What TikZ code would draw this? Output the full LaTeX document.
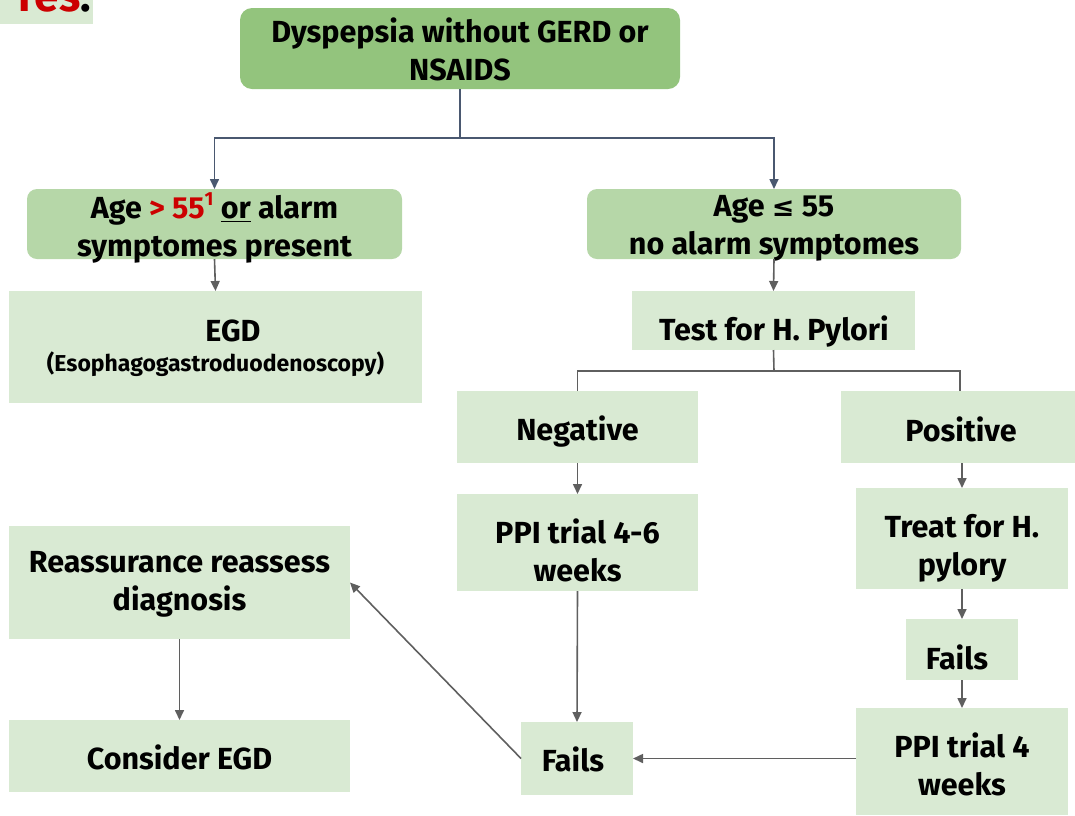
\documentclass[tikz,border=0pt]{standalone}
\usepackage{fontspec}
\setmainfont{Fira Sans}
\newfontfamily\symfont{DejaVu Sans}
\usetikzlibrary{arrows.meta}
\definecolor{topgreen}{HTML}{93C47D}
\definecolor{midgreen}{HTML}{B6D7A8}
\definecolor{lightgreen}{HTML}{D9EAD3}
\definecolor{slateline}{HTML}{4A5870}
\definecolor{grayline}{HTML}{5F5F5F}
\definecolor{redtxt}{HTML}{CC0000}
\tikzset{
  every node/.style={inner sep=0pt, outer sep=0pt},
  boxtext/.style={align=center, font=\bfseries\fontsize{30.5}{38}\selectfont},
  subtext/.style={align=center, font=\bfseries\fontsize{23}{26}\selectfont},
  topbox/.style={fill=topgreen, rounded corners=12pt},
  agebox/.style={fill=midgreen, rounded corners=10pt},
  stepbox/.style={fill=lightgreen},
  slateconn/.style={draw=slateline, line width=1.6pt},
  slatearrow/.style={slateconn, -{Triangle[length=10pt,width=9pt]}},
  grayconn/.style={draw=grayline, line width=1.6pt},
  grayarrow/.style={grayconn, -{Triangle[length=10pt,width=9pt]}},
}
\begin{document}
\begin{tikzpicture}[x=1pt,y=-1pt]
\useasboundingbox (0,0) rectangle (1075,815);
% partial title
\node[fill=lightgreen, anchor=north west, minimum width=93pt, minimum height=24pt] (titlebg) at (0,0) {};
\node[anchor=base east, font=\bfseries\fontsize{44}{50}\selectfont] (titletxt) at (91,11) {\textcolor{redtxt}{res}.};
% boxes
\node[topbox, minimum width=440pt, minimum height=81pt] (top) at (460,48.5) {};
\node[agebox, minimum width=375pt, minimum height=70pt] (ageL) at (214.5,224) {};
\node[agebox, minimum width=374pt, minimum height=70pt] (ageR) at (774,224) {};
\node[stepbox, minimum width=413pt, minimum height=112pt] (egd) at (215.5,347) {};
\node[stepbox, minimum width=283pt, minimum height=59pt] (test) at (773.5,320.5) {};
\node[stepbox, minimum width=241pt, minimum height=72pt] (neg) at (577.5,427) {};
\node[stepbox, minimum width=238pt, minimum height=72pt] (pos) at (960,427) {};
\node[stepbox, minimum width=241pt, minimum height=97pt] (ppisix) at (577.5,542.5) {};
\node[stepbox, minimum width=112pt, minimum height=73pt] (failsA) at (577,758.5) {};
\node[stepbox, minimum width=212pt, minimum height=101pt] (treat) at (962,538.5) {};
\node[stepbox, minimum width=112pt, minimum height=61pt] (failsB) at (962,649.5) {};
\node[stepbox, minimum width=212pt, minimum height=107pt] (ppifour) at (962,761.5) {};
\node[stepbox, minimum width=341pt, minimum height=113pt] (reass) at (179.5,582.5) {};
\node[stepbox, minimum width=341pt, minimum height=72pt] (consider) at (179.5,756) {};
% texts
\node[boxtext] (topT) at (460,49.5) {Dyspepsia without GERD or\\NSAIDS};
\node[boxtext] (ageLT) at (214.5,228) {Age \textcolor{redtxt}{> 55\raisebox{0.45em}{\fontsize{19}{19}\selectfont 1}} \underline{or} alarm\\symptomes present};
\node[boxtext] (ageRT) at (774,228) {Age {\symfont\fontsize{27}{38}\selectfont ≤} 55\\no alarm symptomes};
\node[boxtext] (egdT) at (233,331) {EGD};
\node[subtext] (egdS) at (215.5,364) {(Esophagogastroduodenoscopy)};
\node[boxtext] (testT) at (774,332) {Test for H. Pylori};
\node[boxtext] (negT) at (577.5,432) {Negative};
\node[boxtext] (posT) at (961,429) {Positive};
\node[boxtext] (ppisixT) at (577.5,550) {PPI trial 4-6\\weeks};
\node[boxtext] (failsAT) at (573,759) {Fails};
\node[boxtext] (treatT) at (962,548) {Treat for H.\\pylory};
\node[boxtext] (failsBT) at (957,657) {Fails};
\node[boxtext] (ppifourT) at (962,764) {PPI trial 4\\weeks};
\node[boxtext] (reassT) at (179.5,584) {Reassurance reassess\\diagnosis};
\node[boxtext] (considerT) at (179.5,757) {Consider EGD};
% connectors
\coordinate (splitA) at (460,138);
\draw[slateconn] (top.south) -- (splitA);
\draw[slatearrow] (splitA) -| (ageL.north);
\draw[slatearrow] (splitA) -| (ageR.north);
\draw[grayarrow] (ageL.south) -- (egd.north);
\draw[grayarrow] (ageR.south) -- (test.north);
\coordinate (splitB) at (774,371);
\draw[grayconn] (test.south) -- (splitB);
\draw[grayconn] (splitB) -| (neg.north);
\draw[grayconn] (splitB) -| (pos.north);
\draw[grayarrow] (neg.south) -- (ppisix.north);
\draw[grayarrow] (ppisix.south) -- (failsA.north);
\draw[grayarrow] (pos.south -| treat.north) -- (treat.north);
\draw[grayarrow] (treat.south) -- (failsB.north);
\draw[grayarrow] (failsB.south) -- (ppifour.north);
\draw[grayarrow] (ppifour.west |- failsA.east) -- (failsA.east);
\draw[grayarrow] (failsA.west) -- (reass.east);
\draw[grayarrow] (reass.south) -- (consider.north);
\end{tikzpicture}
\end{document}
